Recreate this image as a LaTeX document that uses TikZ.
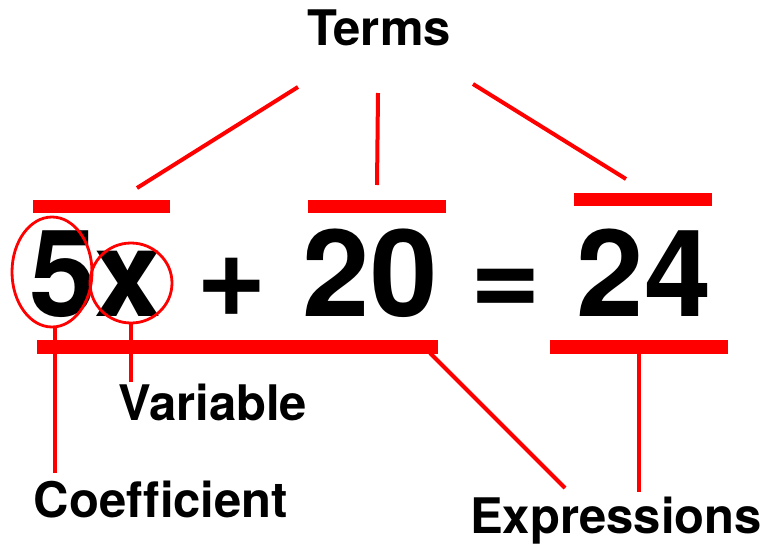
\documentclass[tikz,border=0pt]{standalone}
\usepackage{fontspec}
\setmainfont[Ligatures={NoCommon}]{TeX Gyre Heros}
\begin{document}
\begin{tikzpicture}[x=1pt,y=-1pt,
  bar/.style={fill=red, draw=none, inner sep=0pt, minimum height=13pt},
  thin/.style={draw=red, line width=4pt},
  ring/.style={draw=red, line width=2.8pt},
  label/.style={font=\fontsize{49}{49}\selectfont\bfseries, inner sep=0pt, anchor=base},
  eq/.style={font=\fontsize{121}{121}\selectfont\bfseries, inner sep=0pt, anchor=base}]
\useasboundingbox (0,0) rectangle (765,544);
% equation
\node[eq] (five) at (63,316) {5};
\node[eq] (x) at (128.5,316) {x};
\node[eq] (plus) at (232,316) {+};
\node[eq] (twenty) at (370,316) {20};
\node[eq] (eqs) at (506,316) {=};
\node[eq] (tf) at (644,316) {24};
% labels
\node[label] (terms) at (379,45) {Terms};
\node[label] (var) at (213,420) {Variable};
\node[label] (coef) at (161,517) {Coefficient};
\node[label] (expr) at (616,533) {Expressions};
% bars
\node[bar, minimum width=137pt] (tb1) at (101.5,206.5) {};
\node[bar, minimum width=138pt] (tb2) at (377,206.5) {};
\node[bar, minimum width=138pt] (tb3) at (643,199.5) {};
\node[bar, minimum width=401pt, minimum height=14pt] (bb1) at (237.5,347) {};
\node[bar, minimum width=178pt, minimum height=14pt] (bb2) at (639,347) {};
% rings
\draw[ring] (52,272) ellipse [x radius=40, y radius=55];
\draw[ring] (131,283) ellipse [x radius=41, y radius=40];
% connector ends
\coordinate (t1a) at (298,87);
\coordinate (t1b) at (137,188);
\coordinate (t2a) at (378,93);
\coordinate (t2b) at (377,185);
\coordinate (t3a) at (473,84);
\coordinate (t3b) at (626,179);
\coordinate (c1) at (55,327);
\coordinate (c2) at (55,473);
\coordinate (v1) at (131,323);
\coordinate (v2) at (131,382);
\coordinate (e1) at (430,353);
\coordinate (e2) at (565,488);
\coordinate (e3) at (639,353);
\coordinate (e4) at (639,492);
\draw[thin] (t1a) -- (t1b);
\draw[thin] (t2a) -- (t2b);
\draw[thin] (t3a) -- (t3b);
\draw[thin] (c1) -- (c2);
\draw[thin] (v1) -- (v2);
\draw[thin] (e1) -- (e2);
\draw[thin] (e3) -- (e4);
\end{tikzpicture}
\end{document}
